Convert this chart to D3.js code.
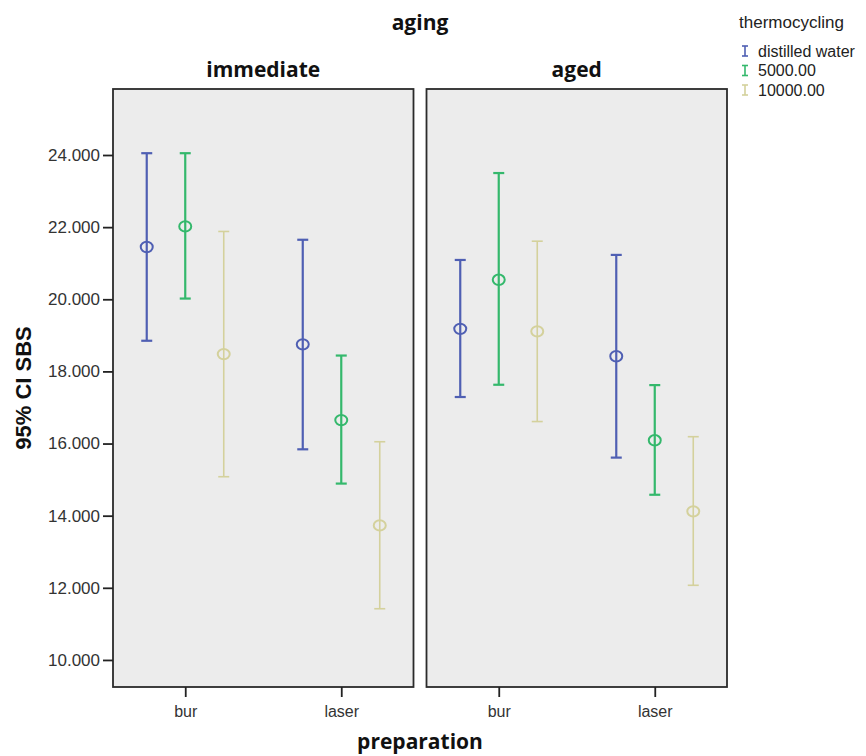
<!DOCTYPE html>
<html>
<head>
<meta charset="utf-8">
<script src="https://cdn.jsdelivr.net/npm/d3@7"></script>
<style>
  html, body { margin: 0; padding: 0; background: #ffffff; }
  svg { display: block; }
</style>
</head>
<body>
<svg id="chart" width="866" height="756"></svg>
<script>
// ---- data ----
const facets = ["immediate", "aged"];
const preparations = ["bur", "laser"];
const seriesNames = ["distilled water", "5000.00", "10000.00"];
const seriesColors = ["#4f5fb3", "#34b86c", "#d4d19c"];
const yTicks = [10, 12, 14, 16, 18, 20, 22, 24];
// order of cells: immediate-bur, immediate-laser, aged-bur, aged-laser
const distilledMean = [21.45, 18.75, 19.18, 18.42];
const distilledLow  = [18.85, 15.84, 17.29, 15.61];
const distilledHigh = [24.05, 21.65, 21.09, 21.23];
const tc5000Mean = [22.02, 16.65, 20.54, 16.09];
const tc5000Low  = [20.02, 14.89, 17.63, 14.58];
const tc5000High = [24.05, 18.44, 23.50, 17.62];
const tc10000Mean = [18.48, 13.73, 19.11, 14.12];
const tc10000Low  = [15.08, 11.42, 16.61, 12.07];
const tc10000High = [21.88, 16.05, 21.61, 16.19];

const seriesMeans = [distilledMean, tc5000Mean, tc10000Mean];
const seriesLows = [distilledLow, tc5000Low, tc10000Low];
const seriesHighs = [distilledHigh, tc5000High, tc10000High];

const rows = [];
seriesNames.forEach((s, si) => {
  facets.forEach((f, fi) => {
    preparations.forEach((p, pi) => {
      const k = fi * preparations.length + pi;
      rows.push({ series: s, si, facet: f, prep: p,
        mean: seriesMeans[si][k], low: seriesLows[si][k], high: seriesHighs[si][k] });
    });
  });
});

// ---- layout ----
const svg = d3.select("#chart");
const plotTop = 89, plotBottom = 687, plotLeft = 113, plotRight = 727;
const titleFont = "'Open Sans', 'Liberation Sans', Arial, sans-serif";
const tickFont = "'Liberation Sans', Arial, sans-serif";

const fx = d3.scaleBand().domain(facets).range([plotLeft, plotRight]).paddingInner(0.0415).paddingOuter(0);
const px = d3.scalePoint().domain(preparations).range([0, fx.bandwidth()]).padding(0.463);
const dx = d3.scalePoint().domain(seriesNames).range([-38.5, 38.5]);
const y = d3.scaleLinear().domain([9.25, 25.83]).range([plotBottom, plotTop]);
const color = d3.scaleOrdinal().domain(seriesNames).range(seriesColors);

// panels
const panels = svg.selectAll("g.panel").data(facets).join("g")
  .attr("class", "panel")
  .attr("transform", d => `translate(${fx(d)},0)`);

panels.append("rect")
  .attr("x", 0).attr("y", plotTop)
  .attr("width", fx.bandwidth()).attr("height", plotBottom - plotTop)
  .attr("fill", "#ececec")
  .attr("stroke", "#2b2b2b").attr("stroke-width", 1.8);

// x axes per panel
panels.each(function() {
  const g = d3.select(this).append("g")
    .attr("transform", `translate(0,${plotBottom})`)
    .call(d3.axisBottom(px).tickSize(10).tickPadding(5));
  g.select(".domain").remove();
  g.selectAll(".tick line").attr("stroke", "#222").attr("stroke-width", 1.8);
  g.selectAll(".tick text").attr("font-family", tickFont).attr("font-size", 16)
    .attr("fill", "#333").attr("dy", "0.95em");
});

// facet titles
panels.append("text")
  .attr("x", fx.bandwidth() / 2).attr("y", 77)
  .attr("text-anchor", "middle")
  .attr("font-family", titleFont).attr("font-weight", 700).attr("font-size", 21)
  .attr("fill", "#111")
  .text(d => d);

// y axis
const yAxisG = svg.append("g")
  .attr("transform", `translate(${plotLeft},0)`)
  .call(d3.axisLeft(y).tickValues(yTicks).tickFormat(d3.format(".3f")).tickSize(10).tickPadding(3));
yAxisG.select(".domain").remove();
yAxisG.selectAll(".tick line").attr("stroke", "#222").attr("stroke-width", 1.8);
yAxisG.selectAll(".tick text").attr("font-family", tickFont).attr("font-size", 17).attr("fill", "#333");

// error bars
const capW = 5.5;
const bars = svg.append("g").selectAll("g.bar").data(rows).join("g")
  .attr("class", "bar")
  .attr("transform", d => `translate(${fx(d.facet) + px(d.prep) + dx(d.series)},0)`);

bars.append("line")
  .attr("x1", 0).attr("x2", 0)
  .attr("y1", d => y(d.high)).attr("y2", d => y(d.low))
  .attr("stroke", d => color(d.series)).attr("stroke-width", d => d.si === 2 ? 1.6 : 2.2);
bars.append("line")
  .attr("x1", -capW).attr("x2", capW)
  .attr("y1", d => y(d.high)).attr("y2", d => y(d.high))
  .attr("stroke", d => color(d.series)).attr("stroke-width", d => d.si === 2 ? 1.6 : 2.2);
bars.append("line")
  .attr("x1", -capW).attr("x2", capW)
  .attr("y1", d => y(d.low)).attr("y2", d => y(d.low))
  .attr("stroke", d => color(d.series)).attr("stroke-width", d => d.si === 2 ? 1.6 : 2.2);
bars.append("ellipse")
  .attr("cx", 0).attr("cy", d => y(d.mean))
  .attr("rx", 6).attr("ry", 5.2)
  .attr("fill", "none")
  .attr("stroke", d => color(d.series)).attr("stroke-width", 2);

// titles
svg.append("text")
  .attr("x", (plotLeft + plotRight) / 2).attr("y", 30)
  .attr("text-anchor", "middle")
  .attr("font-family", titleFont).attr("font-weight", 700).attr("font-size", 21)
  .attr("fill", "#111").text("aging");

svg.append("text")
  .attr("x", (plotLeft + plotRight) / 2).attr("y", 749)
  .attr("text-anchor", "middle")
  .attr("font-family", titleFont).attr("font-weight", 700).attr("font-size", 21)
  .attr("fill", "#111").text("preparation");

svg.append("text")
  .attr("transform", `translate(31,${(plotTop + plotBottom) / 2}) rotate(-90)`)
  .attr("text-anchor", "middle")
  .attr("font-family", tickFont).attr("font-weight", 700).attr("font-size", 22)
  .attr("fill", "#111").text("95% CI SBS");

// legend
const legend = svg.append("g");
legend.append("text")
  .attr("x", 739).attr("y", 28)
  .attr("font-family", tickFont).attr("font-size", 17)
  .attr("fill", "#222").text("thermocycling");

const legY = d3.scalePoint().domain(seriesNames).range([51, 90]);
const items = legend.selectAll("g.item").data(seriesNames).join("g")
  .attr("class", "item")
  .attr("transform", d => `translate(745,${legY(d)})`);
items.append("line").attr("x1", 0).attr("x2", 0).attr("y1", -5).attr("y2", 5)
  .attr("stroke", d => color(d)).attr("stroke-width", 1.6);
items.append("line").attr("x1", -3).attr("x2", 3).attr("y1", -5).attr("y2", -5)
  .attr("stroke", d => color(d)).attr("stroke-width", 1.6);
items.append("line").attr("x1", -3).attr("x2", 3).attr("y1", 5).attr("y2", 5)
  .attr("stroke", d => color(d)).attr("stroke-width", 1.6);
items.append("text")
  .attr("x", 13).attr("y", 0).attr("dy", "0.35em")
  .attr("font-family", tickFont).attr("font-size", 16)
  .attr("fill", "#222").text(d => d);
</script>
</body>
</html>
